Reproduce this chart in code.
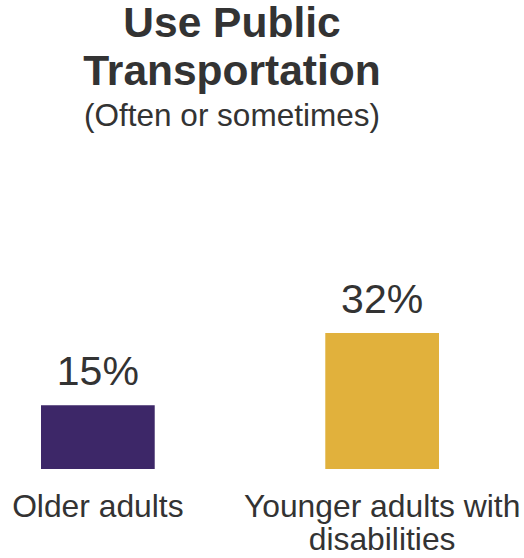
<!DOCTYPE html>
<html lang="en">
  <head>
    <meta charset="UTF-8" />
    <title>Use Public Transportation</title>
    <style type="text/css">
      html,
      body {
        margin: 0;
        padding: 0;
        background: #fff;
        font-family: "Liberation Sans", Arial, sans-serif;
      }

      svg text {
        fill: #333;
      }
    </style>
  </head>
  <body>
    <div id="chart"></div>

    <script src="https://cdn.jsdelivr.net/npm/d3@7"></script>
    <script>
      // === Data === //

      var categories = ["Older adults", "Younger adults with disabilities"];
      var values = [15, 32];
      var colours = ["#3d2768", "#e1b13c"];
      var labelLines = [["Older adults"], ["Younger adults with", "disabilities"]];

      var titleLines = ["Use Public", "Transportation"];
      var subtitle = "(Often or sometimes)";

      // === Layout === //

      var width = 524,
        height = 558;
      var baseline = 469;

      var svg = d3
        .select("#chart")
        .append("svg")
        .attr("width", width)
        .attr("height", height);

      var x = d3
        .scaleBand()
        .domain(categories)
        .range([41, 439])
        .paddingInner(0.6)
        .paddingOuter(0);

      var y = d3
        .scaleLinear()
        .domain([0, 32])
        .range([baseline, baseline - 136]);

      // === Title === //

      var titleX = 232;

      svg
        .selectAll("text.title")
        .data(titleLines)
        .enter()
        .append("text")
        .attr("class", "title")
        .attr("x", titleX)
        .attr("y", function(d, i) {
          return 37 + i * 48;
        })
        .attr("text-anchor", "middle")
        .style("font-size", "42.5px")
        .style("font-weight", "bold")
        .text(function(d) {
          return d;
        });

      svg
        .append("text")
        .attr("x", titleX)
        .attr("y", 126)
        .attr("text-anchor", "middle")
        .style("font-size", "31.5px")
        .text(subtitle);

      // === Bars === //

      var data = categories.map(function(c, i) {
        return { cat: c, value: values[i], colour: colours[i], lines: labelLines[i] };
      });

      svg
        .selectAll("rect.bar")
        .data(data)
        .enter()
        .append("rect")
        .attr("class", "bar")
        .attr("x", function(d) {
          return x(d.cat);
        })
        .attr("y", function(d) {
          return y(d.value);
        })
        .attr("width", x.bandwidth())
        .attr("height", function(d) {
          return y(0) - y(d.value);
        })
        .attr("fill", function(d) {
          return d.colour;
        });

      // value labels
      svg
        .selectAll("text.value")
        .data(data)
        .enter()
        .append("text")
        .attr("class", "value")
        .attr("x", function(d) {
          return x(d.cat) + x.bandwidth() / 2;
        })
        .attr("y", function(d) {
          return y(d.value) - 20;
        })
        .attr("text-anchor", "middle")
        .style("font-size", "41px")
        .text(function(d) {
          return d.value + "%";
        });

      // category labels
      var cat = svg
        .selectAll("text.cat")
        .data(data)
        .enter()
        .append("text")
        .attr("class", "cat")
        .attr("text-anchor", "middle")
        .style("font-size", "31.8px");

      cat
        .selectAll("tspan")
        .data(function(d) {
          return d.lines.map(function(l) {
            return { cat: d.cat, line: l };
          });
        })
        .enter()
        .append("tspan")
        .attr("x", function(d) {
          return x(d.cat) + x.bandwidth() / 2;
        })
        .attr("y", function(d, i) {
          return 517 + i * 33;
        })
        .text(function(d) {
          return d.line;
        });
    </script>
  </body>
</html>
